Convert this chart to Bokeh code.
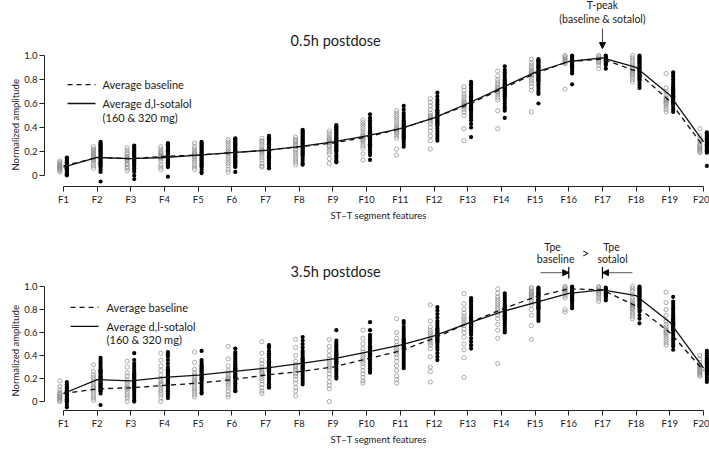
from bokeh.plotting import figure
from bokeh.models import (Range1d, FixedTicker, CustomJSTickFormatter, Label,
                          Arrow, NormalHead, Title)
from bokeh.layouts import column
from bokeh.embed import file_html
from bokeh.resources import INLINE

FONT = "Lato"

features = [f"F{i}" for i in range(1, 21)]

# ---------------- 0.5h postdose ----------------
base_05 = [
    [0.03, 0.04, 0.05, 0.06, 0.06, 0.07, 0.08, 0.08, 0.09, 0.10, 0.11, 0.12],
    [0.06, 0.08, 0.10, 0.12, 0.13, 0.14, 0.15, 0.16, 0.17, 0.18, 0.19, 0.20, 0.21, 0.22, 0.24],
    [0.04, 0.06, 0.07, 0.09, 0.10, 0.12, 0.13, 0.14, 0.15, 0.16, 0.18, 0.19, 0.21, 0.23],
    [0.05, 0.07, 0.09, 0.12, 0.14, 0.15, 0.16, 0.17, 0.18, 0.19, 0.20, 0.22, 0.24],
    [0.05, 0.07, 0.09, 0.11, 0.13, 0.15, 0.16, 0.17, 0.18, 0.19, 0.20, 0.22, 0.24, 0.27],
    [0.03, 0.05, 0.08, 0.10, 0.12, 0.14, 0.16, 0.18, 0.19, 0.20, 0.22, 0.24, 0.26, 0.28, 0.30],
    [0.07, 0.08, 0.10, 0.13, 0.15, 0.17, 0.19, 0.20, 0.21, 0.22, 0.24, 0.26, 0.28, 0.29, 0.31],
    [0.09, 0.11, 0.13, 0.15, 0.17, 0.19, 0.21, 0.22, 0.24, 0.25, 0.26, 0.28, 0.29, 0.30, 0.32],
    [0.10, 0.14, 0.18, 0.20, 0.22, 0.24, 0.25, 0.27, 0.28, 0.29, 0.30, 0.31, 0.33, 0.35, 0.37],
    [0.13, 0.18, 0.23, 0.25, 0.27, 0.29, 0.30, 0.31, 0.32, 0.33, 0.34, 0.36, 0.38, 0.40, 0.42, 0.44, 0.46],
    [0.17, 0.22, 0.31, 0.33, 0.35, 0.36, 0.37, 0.38, 0.39, 0.40, 0.42, 0.44, 0.46, 0.48, 0.50, 0.52, 0.54],
    [0.22, 0.29, 0.33, 0.37, 0.40, 0.43, 0.45, 0.47, 0.48, 0.49, 0.50, 0.52, 0.55, 0.58, 0.61, 0.64],
    [0.29, 0.39, 0.50, 0.53, 0.55, 0.57, 0.58, 0.59, 0.60, 0.61, 0.62, 0.64, 0.66, 0.68, 0.71, 0.74],
    [0.39, 0.54, 0.63, 0.65, 0.67, 0.69, 0.70, 0.71, 0.72, 0.73, 0.74, 0.76, 0.78, 0.80, 0.83, 0.87],
    [0.53, 0.71, 0.74, 0.77, 0.79, 0.81, 0.83, 0.84, 0.85, 0.86, 0.87, 0.88, 0.90, 0.92, 0.94, 0.97],
    [0.72, 0.93, 0.94, 0.95, 0.96, 0.97, 0.98, 0.99, 1.00],
    [0.89, 0.92, 0.94, 0.95, 0.96, 0.97, 0.98, 0.99, 1.00],
    [0.78, 0.80, 0.82, 0.84, 0.85, 0.86, 0.87, 0.88, 0.89, 0.90, 0.92, 0.94, 0.96, 0.98, 1.00],
    [0.53, 0.55, 0.57, 0.59, 0.60, 0.61, 0.62, 0.63, 0.64, 0.65, 0.67, 0.70, 0.73, 0.85],
    [0.19, 0.20, 0.21, 0.22, 0.23, 0.24, 0.25, 0.26, 0.28, 0.30, 0.33, 0.39],
]
sot_05 = [
    [0.00, 0.01, 0.02, 0.03, 0.04, 0.05, 0.06, 0.06, 0.07, 0.07, 0.08, 0.08, 0.09, 0.10, 0.11, 0.12, 0.13, 0.14, 0.15],
    [-0.05, 0.03, 0.05, 0.07, 0.08, 0.09, 0.10, 0.11, 0.12, 0.13, 0.14, 0.15, 0.16, 0.17, 0.18, 0.19, 0.20, 0.21, 0.22, 0.23, 0.24, 0.25, 0.26, 0.27, 0.28],
    [-0.03, 0.00, 0.03, 0.05, 0.06, 0.08, 0.09, 0.10, 0.11, 0.12, 0.13, 0.14, 0.15, 0.16, 0.17, 0.18, 0.19, 0.20, 0.21, 0.22, 0.23, 0.24, 0.25],
    [-0.01, 0.07, 0.08, 0.09, 0.10, 0.11, 0.12, 0.13, 0.14, 0.15, 0.16, 0.17, 0.18, 0.19, 0.20, 0.21, 0.22, 0.23, 0.24, 0.25, 0.26, 0.27],
    [0.02, 0.03, 0.05, 0.07, 0.08, 0.09, 0.10, 0.11, 0.12, 0.13, 0.14, 0.15, 0.16, 0.17, 0.18, 0.19, 0.20, 0.21, 0.22, 0.23, 0.24, 0.25, 0.26, 0.27, 0.28],
    [0.03, 0.07, 0.08, 0.09, 0.10, 0.11, 0.12, 0.13, 0.14, 0.15, 0.16, 0.17, 0.18, 0.19, 0.20, 0.21, 0.22, 0.23, 0.24, 0.25, 0.26, 0.27, 0.28, 0.29, 0.30, 0.31],
    [0.06, 0.08, 0.10, 0.12, 0.13, 0.14, 0.15, 0.16, 0.17, 0.18, 0.19, 0.20, 0.21, 0.22, 0.23, 0.24, 0.25, 0.26, 0.27, 0.28, 0.29, 0.30, 0.31, 0.32, 0.33],
    [0.09, 0.10, 0.12, 0.14, 0.16, 0.17, 0.18, 0.19, 0.20, 0.21, 0.22, 0.23, 0.24, 0.25, 0.26, 0.27, 0.28, 0.29, 0.30, 0.31, 0.32, 0.33, 0.34, 0.35, 0.36, 0.37, 0.38],
    [0.11, 0.12, 0.14, 0.16, 0.18, 0.20, 0.21, 0.22, 0.23, 0.24, 0.25, 0.26, 0.27, 0.28, 0.29, 0.30, 0.31, 0.32, 0.33, 0.34, 0.35, 0.36, 0.37, 0.38, 0.39, 0.40, 0.41, 0.42],
    [0.13, 0.17, 0.19, 0.21, 0.23, 0.24, 0.25, 0.26, 0.27, 0.28, 0.29, 0.30, 0.31, 0.32, 0.33, 0.34, 0.35, 0.36, 0.37, 0.38, 0.40, 0.42, 0.44, 0.46, 0.48, 0.51],
    [0.24, 0.26, 0.28, 0.30, 0.31, 0.32, 0.33, 0.34, 0.35, 0.36, 0.37, 0.38, 0.39, 0.40, 0.41, 0.42, 0.43, 0.44, 0.45, 0.46, 0.48, 0.50, 0.52, 0.55, 0.58],
    [0.29, 0.31, 0.33, 0.35, 0.37, 0.39, 0.41, 0.42, 0.43, 0.44, 0.45, 0.46, 0.47, 0.48, 0.49, 0.50, 0.51, 0.52, 0.53, 0.54, 0.55, 0.57, 0.59, 0.61, 0.63, 0.66, 0.69],
    [0.32, 0.40, 0.43, 0.46, 0.48, 0.50, 0.52, 0.54, 0.55, 0.56, 0.57, 0.58, 0.59, 0.60, 0.61, 0.62, 0.63, 0.64, 0.65, 0.66, 0.67, 0.68, 0.70, 0.72, 0.74, 0.76, 0.78],
    [0.48, 0.54, 0.56, 0.58, 0.60, 0.62, 0.64, 0.66, 0.67, 0.68, 0.69, 0.70, 0.71, 0.72, 0.73, 0.74, 0.75, 0.76, 0.77, 0.78, 0.79, 0.80, 0.82, 0.84, 0.86, 0.88, 0.91],
    [0.60, 0.68, 0.70, 0.72, 0.74, 0.76, 0.78, 0.79, 0.80, 0.81, 0.82, 0.83, 0.84, 0.85, 0.86, 0.87, 0.88, 0.89, 0.90, 0.91, 0.92, 0.93, 0.94, 0.95, 0.96, 0.97],
    [0.76, 0.85, 0.87, 0.89, 0.90, 0.91, 0.92, 0.93, 0.94, 0.95, 0.96, 0.97, 0.98, 0.99, 1.00],
    [0.89, 0.92, 0.93, 0.94, 0.95, 0.96, 0.97, 0.98, 0.99, 1.00],
    [0.73, 0.75, 0.77, 0.79, 0.80, 0.81, 0.82, 0.83, 0.84, 0.85, 0.86, 0.87, 0.88, 0.89, 0.90, 0.91, 0.92, 0.93, 0.94, 0.95, 0.96, 0.97, 0.98, 0.99, 1.00],
    [0.53, 0.55, 0.57, 0.59, 0.60, 0.61, 0.62, 0.63, 0.64, 0.65, 0.66, 0.67, 0.68, 0.69, 0.70, 0.71, 0.72, 0.73, 0.74, 0.76, 0.78, 0.80, 0.82, 0.84, 0.86],
    [0.08, 0.19, 0.20, 0.21, 0.22, 0.23, 0.24, 0.25, 0.26, 0.27, 0.28, 0.29, 0.30, 0.31, 0.32, 0.33, 0.34, 0.35, 0.36],
]
avg_base_05 = [0.08, 0.15, 0.14, 0.16, 0.17, 0.19, 0.21, 0.24, 0.27, 0.32, 0.39, 0.48, 0.59, 0.72, 0.85, 0.95, 0.97, 0.87, 0.62, 0.24]
avg_sot_05 = [0.07, 0.15, 0.14, 0.15, 0.17, 0.19, 0.21, 0.24, 0.28, 0.33, 0.39, 0.48, 0.60, 0.73, 0.86, 0.95, 0.98, 0.90, 0.67, 0.28]

# ---------------- 3.5h postdose ----------------
base_35 = [
    [0.00, 0.01, 0.02, 0.03, 0.04, 0.05, 0.06, 0.07, 0.08, 0.10, 0.13, 0.18],
    [0.01, 0.03, 0.05, 0.07, 0.09, 0.11, 0.12, 0.13, 0.15, 0.17, 0.19, 0.21, 0.23, 0.26, 0.32],
    [0.00, 0.03, 0.05, 0.07, 0.09, 0.11, 0.12, 0.13, 0.15, 0.17, 0.19, 0.22, 0.25, 0.30, 0.35],
    [0.00, 0.03, 0.06, 0.08, 0.10, 0.12, 0.14, 0.15, 0.16, 0.18, 0.20, 0.23, 0.27, 0.31, 0.36, 0.42],
    [0.04, 0.06, 0.08, 0.10, 0.12, 0.14, 0.16, 0.17, 0.18, 0.19, 0.21, 0.23, 0.25, 0.28, 0.34, 0.43],
    [0.04, 0.06, 0.09, 0.12, 0.14, 0.16, 0.18, 0.19, 0.20, 0.21, 0.23, 0.25, 0.27, 0.31, 0.37, 0.48],
    [0.07, 0.09, 0.12, 0.15, 0.18, 0.20, 0.22, 0.24, 0.25, 0.26, 0.28, 0.30, 0.33, 0.36, 0.42, 0.52],
    [0.05, 0.09, 0.12, 0.16, 0.19, 0.22, 0.24, 0.25, 0.27, 0.28, 0.30, 0.32, 0.35, 0.40, 0.47, 0.54],
    [0.00, 0.11, 0.14, 0.17, 0.21, 0.24, 0.27, 0.29, 0.31, 0.33, 0.35, 0.37, 0.40, 0.44, 0.48, 0.54],
    [0.16, 0.18, 0.21, 0.24, 0.27, 0.30, 0.33, 0.35, 0.37, 0.39, 0.41, 0.43, 0.46, 0.50, 0.55, 0.62],
    [0.16, 0.19, 0.22, 0.27, 0.31, 0.35, 0.38, 0.41, 0.43, 0.45, 0.47, 0.49, 0.52, 0.55, 0.60, 0.72],
    [0.17, 0.26, 0.30, 0.39, 0.46, 0.49, 0.51, 0.53, 0.54, 0.56, 0.58, 0.60, 0.62, 0.65, 0.70, 0.84],
    [0.21, 0.38, 0.45, 0.50, 0.56, 0.60, 0.63, 0.66, 0.68, 0.70, 0.72, 0.74, 0.77, 0.80, 0.85, 0.94],
    [0.33, 0.55, 0.62, 0.67, 0.72, 0.75, 0.77, 0.79, 0.81, 0.83, 0.85, 0.87, 0.89, 0.91, 0.94, 0.98],
    [0.54, 0.66, 0.75, 0.80, 0.84, 0.86, 0.88, 0.90, 0.91, 0.92, 0.93, 0.94, 0.95, 0.96, 0.98, 0.99],
    [0.78, 0.80, 0.90, 0.92, 0.94, 0.95, 0.96, 0.97, 0.98, 0.99, 1.00],
    [0.87, 0.89, 0.91, 0.93, 0.94, 0.95, 0.96, 0.97, 0.98, 0.99, 1.00],
    [0.72, 0.74, 0.76, 0.78, 0.80, 0.81, 0.82, 0.83, 0.84, 0.85, 0.86, 0.88, 0.90, 0.93, 0.96, 0.98, 1.00],
    [0.49, 0.51, 0.53, 0.55, 0.57, 0.59, 0.60, 0.61, 0.62, 0.63, 0.65, 0.67, 0.70, 0.75, 0.80, 0.86, 0.95],
    [0.22, 0.23, 0.24, 0.25, 0.26, 0.27, 0.28, 0.29, 0.30, 0.31, 0.32, 0.34, 0.37, 0.40],
]
sot_35 = [
    [-0.05, -0.03, -0.01, 0.00, 0.01, 0.02, 0.03, 0.04, 0.05, 0.06, 0.07, 0.08, 0.09, 0.10, 0.11, 0.12, 0.13, 0.15, 0.17],
    [-0.03, 0.07, 0.09, 0.10, 0.11, 0.12, 0.13, 0.14, 0.15, 0.16, 0.17, 0.18, 0.19, 0.20, 0.21, 0.22, 0.23, 0.24, 0.25, 0.26, 0.27, 0.28, 0.30, 0.32, 0.34, 0.36, 0.38],
    [0.00, 0.01, 0.03, 0.05, 0.07, 0.09, 0.11, 0.12, 0.13, 0.14, 0.15, 0.16, 0.17, 0.18, 0.19, 0.20, 0.21, 0.22, 0.23, 0.24, 0.25, 0.27, 0.29, 0.31, 0.33, 0.36, 0.42],
    [0.03, 0.05, 0.07, 0.09, 0.11, 0.13, 0.15, 0.16, 0.17, 0.18, 0.19, 0.20, 0.21, 0.22, 0.23, 0.24, 0.25, 0.26, 0.27, 0.28, 0.30, 0.33, 0.36, 0.39, 0.41, 0.43],
    [0.07, 0.08, 0.10, 0.12, 0.14, 0.16, 0.18, 0.19, 0.20, 0.21, 0.22, 0.23, 0.24, 0.25, 0.26, 0.27, 0.28, 0.29, 0.30, 0.31, 0.32, 0.34, 0.36, 0.44],
    [0.09, 0.10, 0.12, 0.14, 0.16, 0.18, 0.20, 0.21, 0.22, 0.23, 0.24, 0.25, 0.26, 0.27, 0.28, 0.29, 0.30, 0.31, 0.32, 0.33, 0.35, 0.37, 0.39, 0.41, 0.43, 0.46],
    [0.12, 0.13, 0.15, 0.17, 0.19, 0.21, 0.23, 0.24, 0.25, 0.26, 0.27, 0.28, 0.29, 0.30, 0.31, 0.32, 0.33, 0.34, 0.35, 0.36, 0.38, 0.40, 0.42, 0.44, 0.47, 0.49],
    [0.15, 0.17, 0.19, 0.21, 0.23, 0.25, 0.27, 0.28, 0.29, 0.30, 0.31, 0.32, 0.33, 0.34, 0.35, 0.36, 0.37, 0.38, 0.40, 0.42, 0.44, 0.47, 0.50, 0.53, 0.56],
    [0.20, 0.22, 0.24, 0.26, 0.28, 0.30, 0.32, 0.33, 0.34, 0.35, 0.36, 0.37, 0.38, 0.39, 0.40, 0.41, 0.42, 0.43, 0.44, 0.45, 0.47, 0.49, 0.51, 0.53, 0.62],
    [0.25, 0.27, 0.29, 0.31, 0.33, 0.35, 0.37, 0.38, 0.39, 0.40, 0.41, 0.42, 0.43, 0.44, 0.45, 0.46, 0.47, 0.48, 0.50, 0.52, 0.54, 0.56, 0.58, 0.62, 0.69],
    [0.29, 0.31, 0.33, 0.35, 0.37, 0.39, 0.41, 0.43, 0.45, 0.46, 0.47, 0.48, 0.49, 0.50, 0.51, 0.52, 0.53, 0.54, 0.55, 0.57, 0.59, 0.61, 0.63, 0.65, 0.68, 0.70],
    [0.36, 0.39, 0.42, 0.45, 0.47, 0.49, 0.51, 0.52, 0.53, 0.54, 0.55, 0.56, 0.57, 0.58, 0.59, 0.60, 0.61, 0.62, 0.63, 0.64, 0.66, 0.68, 0.70, 0.73, 0.76, 0.79, 0.82],
    [0.46, 0.49, 0.52, 0.55, 0.58, 0.60, 0.62, 0.63, 0.64, 0.65, 0.66, 0.67, 0.68, 0.69, 0.70, 0.71, 0.72, 0.73, 0.74, 0.76, 0.78, 0.80, 0.82, 0.84, 0.86, 0.88, 0.90],
    [0.60, 0.62, 0.64, 0.66, 0.68, 0.70, 0.71, 0.72, 0.73, 0.74, 0.75, 0.76, 0.77, 0.78, 0.79, 0.80, 0.81, 0.82, 0.83, 0.84, 0.86, 0.88, 0.90, 0.92, 0.94],
    [0.70, 0.72, 0.74, 0.76, 0.78, 0.80, 0.81, 0.82, 0.83, 0.84, 0.85, 0.86, 0.87, 0.88, 0.89, 0.90, 0.91, 0.92, 0.93, 0.94, 0.95, 0.96, 0.97, 0.98, 0.99],
    [0.81, 0.83, 0.85, 0.87, 0.88, 0.89, 0.90, 0.91, 0.92, 0.93, 0.94, 0.95, 0.96, 0.97, 0.98, 0.99, 1.00],
    [0.88, 0.90, 0.91, 0.92, 0.93, 0.94, 0.95, 0.96, 0.97, 0.98, 0.99],
    [0.68, 0.72, 0.75, 0.78, 0.80, 0.82, 0.83, 0.84, 0.85, 0.86, 0.87, 0.88, 0.89, 0.90, 0.91, 0.92, 0.93, 0.94, 0.95, 0.96, 0.97, 0.98, 0.99, 1.00],
    [0.45, 0.48, 0.50, 0.52, 0.54, 0.56, 0.58, 0.60, 0.62, 0.63, 0.64, 0.65, 0.66, 0.67, 0.68, 0.69, 0.70, 0.71, 0.72, 0.73, 0.75, 0.77, 0.79, 0.81, 0.83, 0.85, 0.87, 0.91],
    [0.17, 0.19, 0.21, 0.23, 0.24, 0.25, 0.26, 0.27, 0.28, 0.29, 0.30, 0.31, 0.32, 0.33, 0.34, 0.35, 0.36, 0.37, 0.38, 0.40, 0.42, 0.44],
]
avg_base_35 = [0.07, 0.11, 0.12, 0.14, 0.16, 0.19, 0.23, 0.26, 0.30, 0.37, 0.44, 0.55, 0.68, 0.80, 0.91, 0.98, 0.97, 0.83, 0.60, 0.27]
avg_sot_35 = [0.07, 0.19, 0.18, 0.21, 0.23, 0.26, 0.29, 0.33, 0.37, 0.43, 0.49, 0.57, 0.68, 0.78, 0.86, 0.94, 0.97, 0.92, 0.69, 0.29]

BASE_OFF = -0.11
SOT_OFF = 0.10
TEXT_COLOR = "#1a1a1a"


def txt(p, x, y, s, size="10.5px", align="center"):
    p.add_layout(Label(x=x, y=y, text=s, text_font=FONT, text_font_size=size,
                       text_color=TEXT_COLOR, text_align=align,
                       text_baseline="middle"))


def side_title(p, s, side, offset):
    p.add_layout(Title(text=s, align="left", offset=offset, standoff=1,
                       text_font=FONT, text_font_size="9.5px",
                       text_font_style="normal", text_color=TEXT_COLOR), side)


def make_panel(title, base, sot, avg_b, avg_s, height, y_start, y_end,
               border_bottom, leg):
    p = figure(width=709, height=height, output_backend="svg", toolbar_location=None,
               x_range=Range1d(0.436, 20.178), y_range=Range1d(y_start, y_end),
               min_border_left=44, min_border_right=0, min_border_top=0,
               min_border_bottom=border_bottom)
    p.outline_line_color = None
    p.grid.visible = False

    xs_b, ys_b, xs_s, ys_s = [], [], [], []
    for i in range(len(features)):
        for v in base[i]:
            xs_b.append(i + 1 + BASE_OFF)
            ys_b.append(v)
        for v in sot[i]:
            xs_s.append(i + 1 + SOT_OFF)
            ys_s.append(v)
    p.scatter(xs_b, ys_b, marker="circle", size=4.2, fill_color=None,
              line_color="#8a8a8a", line_width=0.7)
    p.scatter(xs_s, ys_s, marker="circle", size=4.2, fill_color="black",
              line_color=None)

    xpos = list(range(1, len(features) + 1))
    p.line(xpos, avg_b, line_color="#111111", line_width=1.3, line_dash="5 4")
    p.line(xpos, avg_s, line_color="#111111", line_width=1.3)

    # axes (R style, detached, bounded)
    xa = p.xaxis[0]
    xa.ticker = FixedTicker(ticks=xpos)
    xa.formatter = CustomJSTickFormatter(code='return "F" + tick;')
    xa.bounds = (1, 20)
    ya = p.yaxis[0]
    ya.ticker = FixedTicker(ticks=[0, 0.2, 0.4, 0.6, 0.8, 1.0])
    ya.formatter = CustomJSTickFormatter(code="return tick == 0 ? '0' : tick.toFixed(1);")
    ya.bounds = (0, 1)
    for ax in (xa, ya):
        ax.axis_line_color = "#222222"
        ax.axis_line_width = 1
        ax.major_tick_line_color = "#222222"
        ax.major_tick_out = 5
        ax.major_tick_in = 0
        ax.minor_tick_line_color = None
        ax.major_label_text_font = FONT
        ax.major_label_text_font_size = "9.5px"
        ax.major_label_text_color = TEXT_COLOR
        ax.major_label_standoff = 2

    # axis titles as side titles
    side_title(p, "Normalized amplitude", "left", leg["ylab_off"])
    side_title(p, "ST\u2013T segment features", "below", 286)

    # panel title
    txt(p, 9.08, leg["title_y"], title, size="14.5px")

    # legend
    (x0, x1), xt = leg["line_x"], leg["text_x"]
    ly1, ly2, ly3 = leg["y"]
    p.line([x0, x1], [ly1, ly1], line_color="#111111", line_width=1.3, line_dash="5 4")
    p.line([x0, x1], [ly2, ly2], line_color="#111111", line_width=1.3)
    txt(p, xt, ly1, "Average baseline", size="11px", align="left")
    txt(p, xt, ly2, "Average d,l-sotalol", size="11px", align="left")
    txt(p, xt, ly3, "(160 & 320 mg)", size="11px", align="left")
    return p


# top: height 230, frame 0..186, y=1 at 55, y=0 at 175 (120 px/unit)
top = make_panel("0.5h postdose", base_05, sot_05, avg_base_05, avg_sot_05,
                 230, -0.0917, 1.4583, 44,
                 dict(line_x=(1.12, 1.95), text_x=2.16, y=(0.758, 0.60, 0.483),
                      title_y=1.125, ylab_off=16))
# bottom: height 220 (page 230..450), frame 230..410, y=1 at 286, y=0 at 401
bottom = make_panel("3.5h postdose", base_35, sot_35, avg_base_35, avg_sot_35,
                    220, -0.078, 1.487, 40,
                    dict(line_x=(1.21, 2.04), text_x=2.28, y=(0.818, 0.653, 0.537),
                         title_y=1.132, ylab_off=14))

# T-peak annotation (top)
txt(top, 17.0, 1.417, "T-peak")
txt(top, 17.0, 1.308, "(baseline & sotalol)")
top.add_layout(Arrow(x_start=17.0, y_start=1.225, x_end=17.0, y_end=1.058,
                     line_color="#444444", line_width=1,
                     end=NormalHead(size=6, fill_color="black", line_color="black")))

# Tpe annotations (bottom)
txt(bottom, 15.52, 1.345, "Tpe")
txt(bottom, 15.61, 1.24, "baseline")
txt(bottom, 16.5, 1.292, ">", size="13px")
txt(bottom, 17.27, 1.345, "Tpe")
txt(bottom, 17.30, 1.24, "sotalol")
bottom.add_layout(Arrow(x_start=15.16, y_start=1.12, x_end=16.0, y_end=1.12,
                        line_color="#555555", line_width=1,
                        end=NormalHead(size=6, fill_color="black", line_color="black")))
bottom.add_layout(Arrow(x_start=17.89, y_start=1.12, x_end=17.0, y_end=1.12,
                        line_color="#555555", line_width=1,
                        end=NormalHead(size=6, fill_color="black", line_color="black")))
bottom.segment(x0=[16.0, 17.0], y0=[1.07, 1.07], x1=[16.0, 17.0], y1=[1.17, 1.17],
               line_color="black", line_width=1.2)

layout = column(top, bottom, spacing=0)
open("out.html", "w").write(file_html(layout, INLINE))
